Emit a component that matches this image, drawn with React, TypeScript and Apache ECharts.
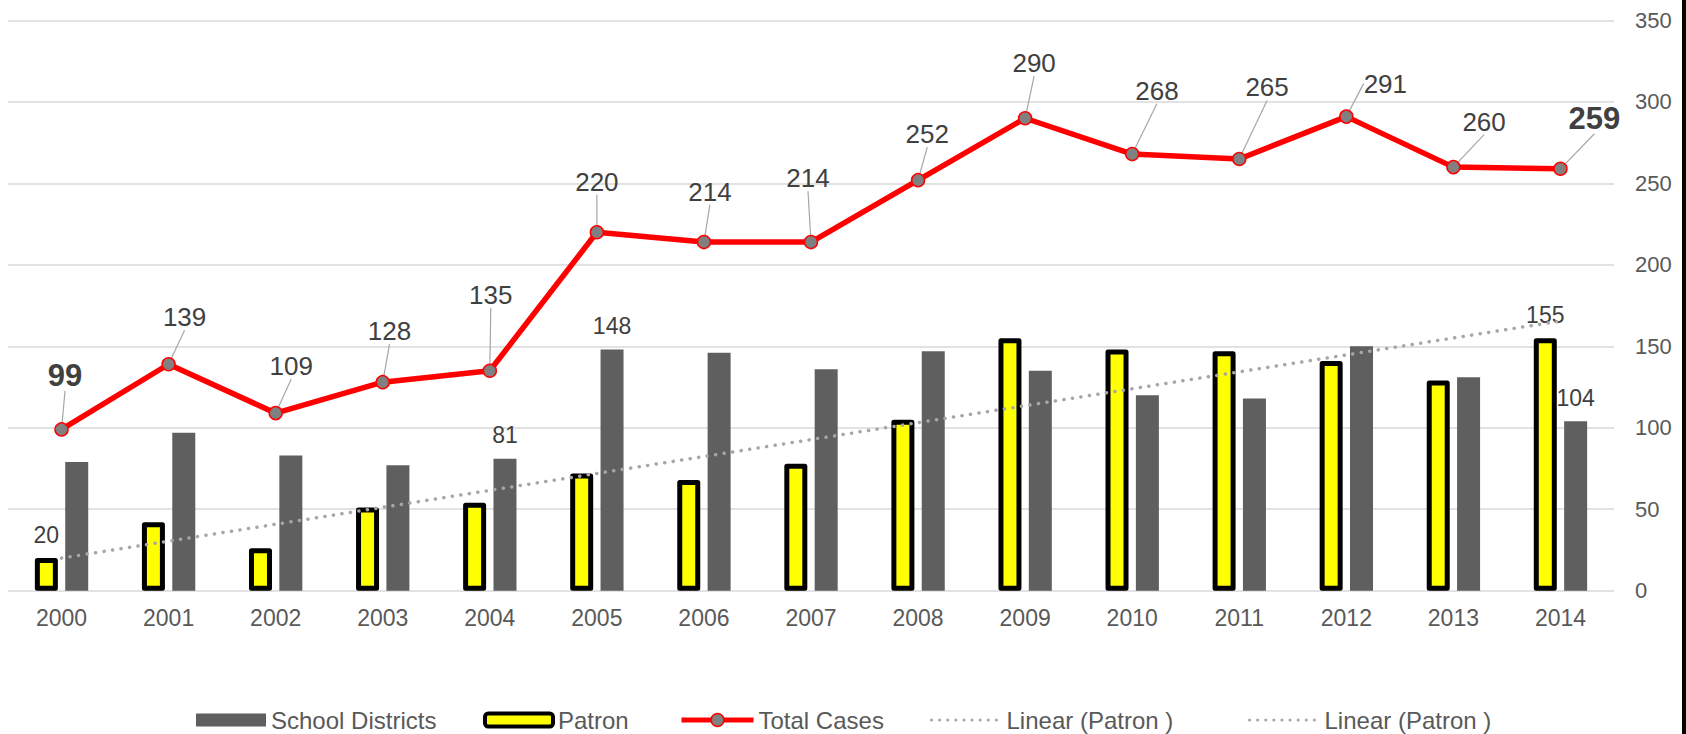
import { useEffect, useRef } from 'react';
import * as echarts from 'echarts';

const years = ['2000', '2001', '2002', '2003', '2004', '2005', '2006', '2007', '2008', '2009', '2010', '2011', '2012', '2013', '2014'];
const patron = [20, 42, 26, 51, 54, 72, 68, 78, 105, 155, 148, 147, 141, 129, 155];
const schoolDistricts = [79, 97, 83, 77, 81, 148, 146, 136, 147, 135, 120, 118, 150, 131, 104];
const totalCases = [99, 139, 109, 128, 135, 220, 214, 214, 252, 290, 268, 265, 291, 260, 259];
// Linear (Patron) trendline end values
const patronTrendEnds = [20, 165.5];
const yMin = 0;
const yMax = 350;
const yStep = 50;

const patronLabelled = [0, 14];
const schoolLabelled = [4, 5, 14];
const boldTotals = [0, 14];

// label offsets (px) of the Total Cases labels from their points
const totalLabelShift: [number, number][] = [
  [3.5, -54], [16, -47], [15.6, -47], [6.8, -51], [1, -76],
  [0, -50.6], [6, -50.4], [-3, -63.8], [9.2, -46], [9, -55],
  [24.7, -63.3], [27.8, -71.5], [39, -33], [30.7, -45.5], [34, -50.5],
];

const FONT = '"Liberation Sans", Arial, sans-serif';
const AXIS_GREY = '#595959';
const LABEL_GREY = '#404040';

const NAME_SCHOOL = 'School Districts';
const NAME_PATRON = 'Patron';
const NAME_TOTAL = 'Total Cases';
const NAME_TREND = 'Linear (Patron )';

export default function App() {
  const ref = useRef<HTMLDivElement>(null);
  useEffect(() => {
    const chart = echarts.init(ref.current!, null, { renderer: 'svg' });
    const legendBase = {
      top: 708,
      padding: 0,
      selectedMode: false,
      textStyle: { fontSize: 24, color: AXIS_GREY, fontFamily: FONT },
    };
    const trendLegend = {
      ...legendBase,
      data: [NAME_TREND],
      itemWidth: 70,
      itemHeight: 14,
      itemStyle: { opacity: 0, borderWidth: 0 },
      lineStyle: { color: '#A6A6A6', width: 3, type: [0.1, 8], cap: 'round' },
    };
    const option: any = {
      animation: false,
      backgroundColor: '#ffffff',
      textStyle: { fontFamily: FONT },
      grid: { left: 8, right: 68, top: 20.5, bottom: 143.3 },
      legend: [
        { ...legendBase, data: [NAME_SCHOOL], left: 196, itemWidth: 70, itemHeight: 13, icon: 'rect', itemStyle: { color: '#5F5F5F', borderWidth: 0 } },
        { ...legendBase, data: [NAME_PATRON], left: 483, itemWidth: 68, itemHeight: 13, icon: 'roundRect', itemStyle: { color: '#FFFF00', borderColor: '#000000', borderWidth: 4 } },
        {
          ...legendBase,
          data: [NAME_TOTAL],
          left: 679,
          itemWidth: 72,
          itemHeight: 16,
          lineStyle: { color: '#FF0000', width: 5 },
          itemStyle: { color: '#808080', borderColor: '#FF0000', borderWidth: 1.5 },
        },
        { ...trendLegend, left: 930 },
        { ...trendLegend, left: 1248 },
      ],
      xAxis: {
        type: 'category',
        data: years,
        axisLine: { show: false },
        axisTick: { show: false },
        axisLabel: { color: AXIS_GREY, fontSize: 23, margin: 16, fontFamily: FONT },
      },
      yAxis: {
        type: 'value',
        position: 'right',
        min: yMin,
        max: yMax,
        interval: yStep,
        axisLine: { show: false },
        axisTick: { show: false },
        axisLabel: { color: AXIS_GREY, fontSize: 22, margin: 21, fontFamily: FONT },
        splitLine: { lineStyle: { color: '#D9D9D9', width: 1.5 } },
      },
      series: [
        {
          name: NAME_PATRON,
          type: 'bar',
          barWidth: 23,
          barGap: '32%',
          itemStyle: { color: '#FFFF00', borderColor: '#000000', borderWidth: 5, borderJoin: 'round' },
          data: patron.map((v, i) => ({
            value: v,
            label: { show: patronLabelled.includes(i) },
          })),
          label: { position: 'top', distance: 12, fontSize: 23, color: LABEL_GREY, fontFamily: FONT },
        },
        {
          name: NAME_SCHOOL,
          type: 'bar',
          barWidth: 23,
          barGap: '32%',
          itemStyle: { color: '#5F5F5F' },
          data: schoolDistricts.map((v, i) => ({
            value: v,
            label: { show: schoolLabelled.includes(i) },
          })),
          label: { position: 'top', distance: 12, fontSize: 23, color: LABEL_GREY, fontFamily: FONT },
        },
        {
          name: NAME_TREND,
          type: 'line',
          symbol: 'none',
          connectNulls: true,
          lineStyle: { color: '#A6A6A6', width: 3.5, type: [0.1, 8.5], cap: 'round' },
          itemStyle: { color: '#A6A6A6' },
          data: years.map((_, i) =>
            i === 0 ? patronTrendEnds[0] : i === years.length - 1 ? patronTrendEnds[1] : null
          ),
        },
        {
          name: NAME_TOTAL,
          type: 'line',
          symbol: 'circle',
          symbolSize: 13,
          lineStyle: { color: '#FF0000', width: 5.5 },
          itemStyle: { color: '#808080', borderColor: '#FF0000', borderWidth: 1.5 },
          data: totalCases.map((v, i) => ({
            value: v,
            label: boldTotals.includes(i) ? { fontSize: 31, fontWeight: 'bold' } : undefined,
          })),
          label: { show: true, position: 'inside', fontSize: 26, color: LABEL_GREY, fontFamily: FONT },
          labelLayout: (p: any) => ({ dx: totalLabelShift[p.dataIndex][0], dy: totalLabelShift[p.dataIndex][1] }),
          labelLine: { show: true, lineStyle: { color: '#A6A6A6', width: 1.2 } },
        },
      ],
    };
    chart.setOption(option);
    return () => chart.dispose();
  }, []);
  return (
    <div
      ref={ref}
      style={{
        position: 'absolute',
        left: 0,
        top: 0,
        width: 1686,
        height: 734,
        boxSizing: 'border-box',
        borderRight: '4px solid #000',
        background: '#fff',
      }}
    />
  );
}
